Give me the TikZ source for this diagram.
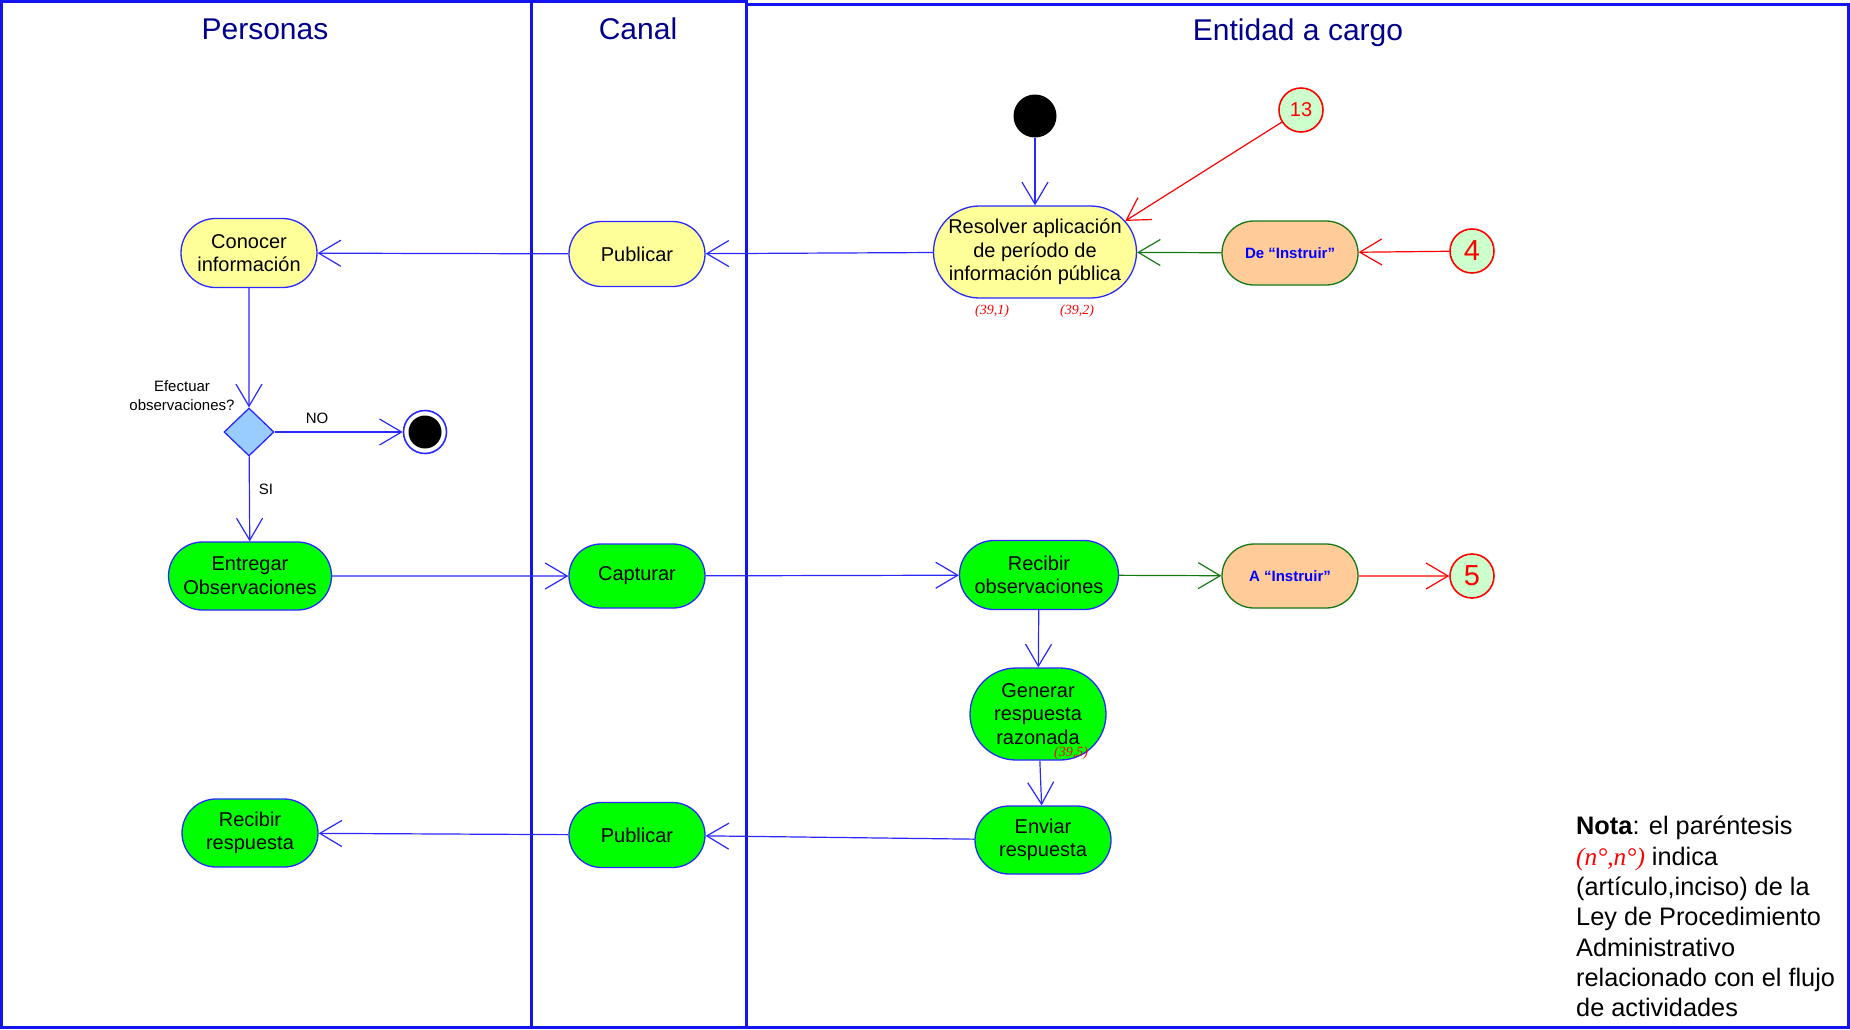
\documentclass[tikz,border=0pt]{standalone}
\usepackage{fontspec}
\setmainfont{Liberation Sans}
\newfontfamily\serifit{Liberation Serif}
\usetikzlibrary{arrows.meta,shapes.misc,shapes.geometric}
\definecolor{lblue}{RGB}{40,40,255}
\definecolor{lanecol}{RGB}{20,20,240}
\definecolor{titlecol}{RGB}{0,0,140}
\definecolor{yelf}{RGB}{255,255,153}
\definecolor{grnf}{RGB}{0,255,0}
\definecolor{orf}{RGB}{255,204,153}
\definecolor{dgreen}{RGB}{20,120,20}
\definecolor{cgreen}{RGB}{204,255,204}
\definecolor{diaf}{RGB}{153,204,255}
\begin{document}
\begin{tikzpicture}[x=1pt,y=-1pt,
  lane/.style={draw=lanecol,line width=3pt},
  title/.style={text=titlecol,font=\fontsize{30}{34}\selectfont,inner sep=0pt},
  act/.style={rounded rectangle,draw=lblue,line width=1.3pt,align=center,
    font=\fontsize{20}{23.6}\selectfont,inner sep=0pt},
  yel/.style={act,fill=yelf},
  grn/.style={act,fill=grnf},
  orng/.style={rounded rectangle,draw=dgreen,fill=orf,line width=1.3pt,
    font=\fontsize{15}{18}\selectfont\bfseries,text=blue,
    minimum width=136pt,minimum height=64pt,inner sep=0pt},
  conn/.style={circle,draw=red,fill=cgreen,line width=1.6pt,text=red,
    minimum size=44pt,inner sep=0pt},
  flow/.style={-{Straight Barb[length=22pt,width=26pt]},line width=1.2pt,draw=lblue},
  gflow/.style={flow,draw=dgreen},
  rflow/.style={flow,draw=red},
  small/.style={font=\fontsize{15}{19}\selectfont,inner sep=0pt,align=center},
  ref/.style={font=\serifit\itshape\fontsize{14}{16}\selectfont,text=red,inner sep=0pt}
]
\useasboundingbox (0,0) rectangle (1850,1029);
\fill[white] (0,0) rectangle (1850,1029);
% lanes
\draw[lane] (1.5,1.5) rectangle (531,1027);
\draw[lane] (531,1.5) rectangle (746,1027);
\draw[lane] (746,4) rectangle (1848,1027);
\node[title] (tP) at (265,29) {Personas};
\node[title] (tC) at (638,29) {Canal};
\node[title] (tE) at (1298,33) {Entidad a cargo};
% nodes
\node[circle,fill=black,minimum size=43pt,inner sep=0pt] (start) at (1035,116) {};
\node[conn,font=\fontsize{20}{24}\selectfont] (c13) at (1301,110) {13};
\node[yel,minimum width=203pt,minimum height=92pt] (res) at (1035,252)
  {\raisebox{0pt}{}Resolver aplicación\\de período de\\información pública};
\node[orng] (dei) at (1290,253) {De “Instruir”};
\node[conn,font=\fontsize{29}{34}\selectfont] (c4) at (1472,251) {4};
\node[ref] (r1) at (992,311) {(39,1)};
\node[ref] (r2) at (1077,311) {(39,2)};
\node[yel,minimum width=136pt,minimum height=65pt] (pub1) at (637,254) {Publicar};
\node[yel,minimum width=136pt,minimum height=69pt] (con) at (249,253) {Conocer\\información};
\node[diamond,draw=lblue,fill=diaf,line width=1.3pt,minimum width=50pt,minimum height=48pt,inner sep=0pt] (dec) at (249,432) {};
\node[small] (q) at (182,396) {Efectuar\\observaciones?};
\node[small] (no) at (317,418) {NO};
\node[small] (si) at (266,489) {SI};
\node[circle,draw=lblue,fill=white,line width=1.6pt,minimum size=43pt,inner sep=0pt,
  path picture={\fill[black] (path picture bounding box.center) circle (16.5pt);}] (fin) at (425,432) {};
\node[grn,minimum width=163pt,minimum height=68pt] (ent) at (250,576) {Entregar\\Observaciones};
\node[grn,minimum width=136pt,minimum height=64pt] (cap) at (637,576) {Capturar};
\node[grn,minimum width=159pt,minimum height=69pt] (rob) at (1039,575) {Recibir\\observaciones};
\node[orng] (ai) at (1290,576) {A “Instruir”};
\node[conn,font=\fontsize{29}{34}\selectfont] (c5) at (1472,576) {5};
\node[grn,minimum width=136pt,minimum height=92pt] (gen) at (1038,714) {Generar\\respuesta\\razonada};
\node[ref] (r5) at (1071,753) {(39,5)};
\node[grn,minimum width=136pt,minimum height=68pt] (env) at (1043,840) {Enviar\\respuesta};
\node[grn,minimum width=136pt,minimum height=65pt] (pub2) at (637,835) {Publicar};
\node[grn,minimum width=136pt,minimum height=68pt] (rres) at (250,833) {Recibir\\respuesta};
% note
\node[anchor=north west,align=left,inner sep=0pt,font=\fontsize{25.3}{30.3}\selectfont] (nota) at (1576,816)
  {\textbf{Nota}: el paréntesis\\{\color{red}\serifit\itshape (n°,n°)} indica\\(artículo,inciso) de la\\Ley de Procedimiento\\Administrativo\\relacionado con el flujo\\de actividades};
% connectors
\draw[flow] (start) -- (res);
\draw[rflow] (c13) -- (res.19);
\draw[gflow] (dei) -- (res);
\draw[rflow] (c4) -- (dei);
\draw[flow] (res) -- (pub1);
\draw[flow] (pub1) -- (con);
\draw[flow] (con) -- (dec);
\draw[flow] (dec) -- (fin);
\draw[flow] (dec) -- (ent);
\draw[flow] (ent) -- (cap);
\draw[flow] (cap) -- (rob);
\draw[gflow] (rob) -- (ai);
\draw[rflow] (ai) -- (c5);
\draw[flow] (rob) -- (gen);
\draw[flow] (gen) -- (env);
\draw[flow] (env) -- (pub2);
\draw[flow] (pub2) -- (rres);
\end{tikzpicture}
\end{document}
